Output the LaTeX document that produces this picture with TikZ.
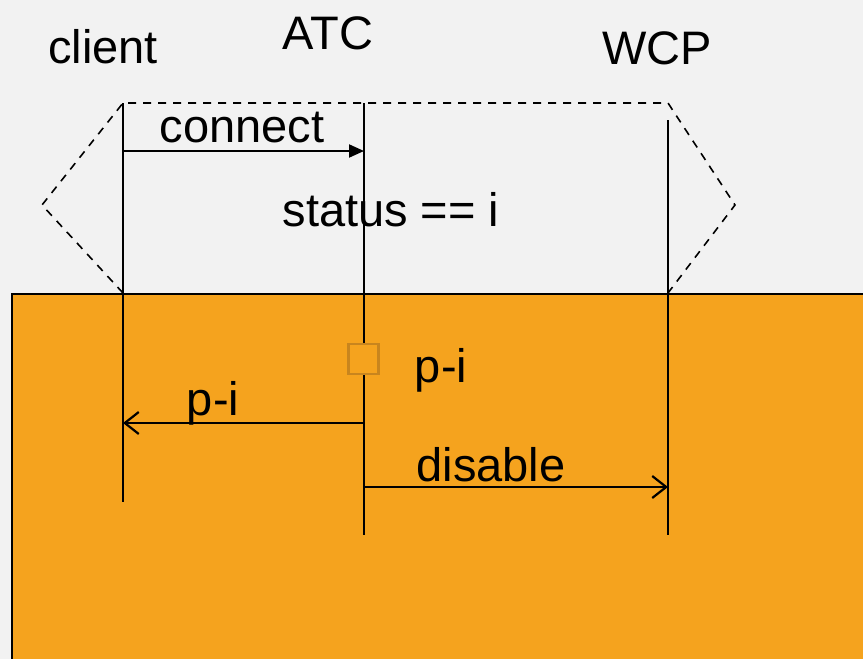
\documentclass[tikz,border=0pt]{standalone}
\usepackage{fontspec}
\setmainfont{Liberation Sans}
\definecolor{bggrey}{RGB}{242, 242, 242}
\definecolor{phaseorange}{RGB}{245, 163, 30}
\definecolor{boxbrown}{RGB}{200, 133, 30}
\usetikzlibrary{positioning, arrows.meta}

\begin{document}
\begin{tikzpicture}[x=1pt, y=-1pt, line width=2pt,
    msg/.style={-{Straight Barb[length=14pt, width=22pt, line width=2.2pt]}},
    every node/.style={font=\fontsize{47}{52}\selectfont, inner sep=0pt}]
    \useasboundingbox (0,0) rectangle (863,659);
    \clip (0,0) rectangle (863,659);
    \fill [bggrey] (0,0) rectangle (863,659);

    % dashed frame
    \coordinate (tl) at (123,103);
    \coordinate (tr) at (668,103);
    \coordinate (lv) at (42,205);
    \coordinate (rv) at (735,205);
    \coordinate (bl) at (123,293);
    \coordinate (br) at (668,293);
    \draw [line width=1.6pt, dash pattern=on 8pt off 7pt] (bl) -- (lv) -- (tl) -- (tr) -- (rv) -- (br);

    % orange phase
    \draw [fill=phaseorange, line width=2pt] (12,294) rectangle (880,680);

    % lifelines
    \coordinate (client top) at (123,103);
    \coordinate (client bot) at (123,502);
    \coordinate (atc top) at (364,103);
    \coordinate (atc bot) at (364,535);
    \coordinate (wcp top) at (668,120);
    \coordinate (wcp bot) at (668,535);
    \draw (client top) -- (client bot);
    \draw (atc top) -- (atc bot);
    \draw (wcp top) -- (wcp bot);

    \node (client) at (103,47) {client};
    \node (atc) at (328,33) {ATC};
    \node (wcp) at (657,48) {WCP};

    % messages
    \coordinate (c1) at (123,151);
    \coordinate (a1) at (364,151);
    \draw [-{Triangle[length=15pt, width=13pt]}] (c1) -- (a1);
    \node (connect) at (242,128) {connect};

    \node (status) at (391,210) {status == i};

    \node [draw=boxbrown, fill=phaseorange, line width=2.8pt, minimum size=30pt] (pibox) at (363.5,359) {};
    \node (pibox label) at (441,370) {p-i};

    \coordinate (a2) at (364,423);
    \coordinate (c2) at (123,423);
    \draw [msg] (a2) -- (c2);
    \node (pi) at (213,403) {p-i};

    \coordinate (a3) at (364,487);
    \coordinate (w3) at (668,487);
    \draw [msg] (a3) -- (w3);
    \node (disable) at (491,465) {disable};
\end{tikzpicture}
\end{document}
